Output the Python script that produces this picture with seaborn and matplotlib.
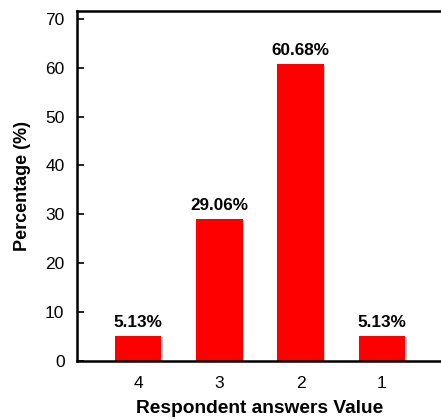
import matplotlib
matplotlib.use('Agg')
import matplotlib.pyplot as plt
import matplotlib.patheffects as pe
import seaborn as sns
import pandas as pd

# ---- data ----
answers = ['4', '3', '2', '1']
percentages = [5.13, 29.06, 60.68, 5.13]
value_labels = ['5.13%', '29.06%', '60.68%', '5.13%']

df = pd.DataFrame({'answer': answers, 'pct': percentages})

sns.set_style('ticks')
plt.rcParams['font.family'] = ['Liberation Sans', 'DejaVu Sans']
plt.rcParams['text.color'] = 'black'
plt.rcParams['axes.labelcolor'] = 'black'
plt.rcParams['xtick.color'] = 'black'
plt.rcParams['ytick.color'] = 'black'

fig = plt.figure(figsize=(4.41, 4.19), dpi=100)
ax = fig.add_axes([77 / 441, 58 / 419, 366 / 441, 350 / 419])

sns.barplot(data=df, x='answer', y='pct', color='#ff0000', saturation=1,
            width=0.57, linewidth=0, ax=ax)

for bar in ax.patches:
    bar.set_path_effects([pe.SimplePatchShadow(offset=(1, -1), shadow_rgbFace='#888888', alpha=0.5),
                          pe.Normal()])

for i, lab in enumerate(value_labels):
    ax.text(i, percentages[i] + 1.3, lab, ha='center', va='bottom',
            fontsize=12.3, fontweight='bold')

ax.set_xlim(-0.75, 3.75)
ax.set_ylim(0, 71.6)
ax.set_yticks(range(0, 71, 10))
ax.tick_params(axis='y', direction='in', length=5, width=1.2, labelsize=12.5, pad=9)
ax.tick_params(axis='x', length=0, labelsize=12.5, pad=11)

for s in ['left', 'bottom', 'top']:
    ax.spines[s].set_linewidth(1.8)
    ax.spines[s].set_color('black')
ax.spines['right'].set_visible(False)

ax.set_xlabel('Respondent answers Value', fontsize=13.8, fontweight='bold', labelpad=6)
ax.set_ylabel('Percentage (%)', fontsize=13, fontweight='bold', labelpad=10)

fig.savefig('out.png', dpi=100)
